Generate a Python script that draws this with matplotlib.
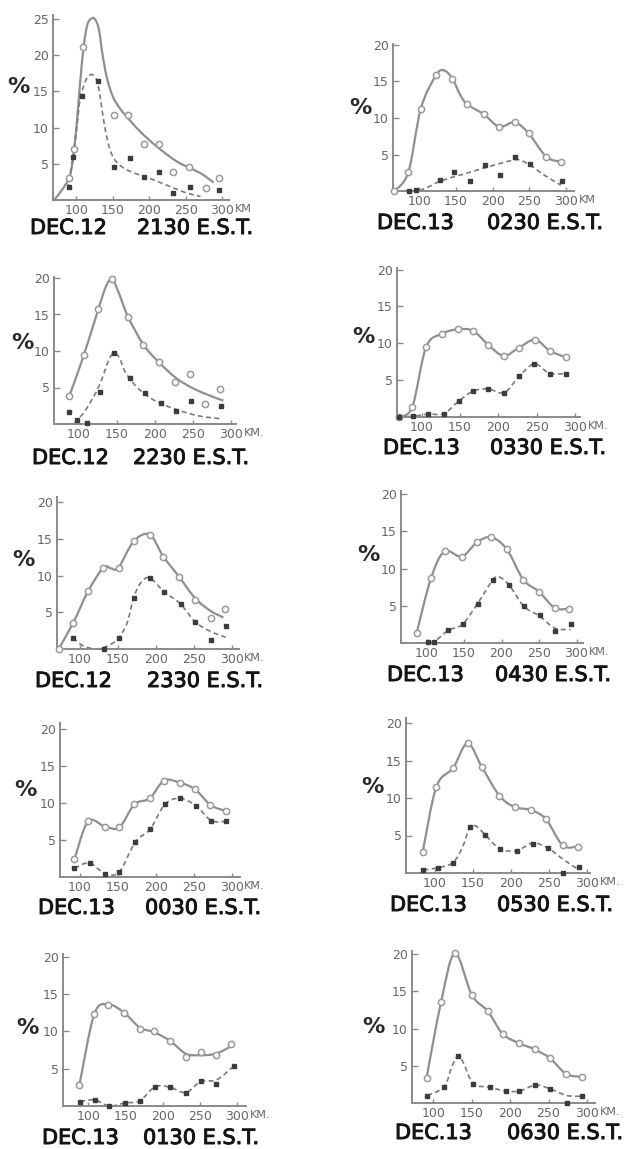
import matplotlib
matplotlib.use("Agg")
import matplotlib.pyplot as plt
import matplotlib.patheffects as pe
import numpy as np
from matplotlib.path import Path
from matplotlib.patches import PathPatch

W, H = 638, 1149

# ---- data (km, %) ----
# DEC.12 2130
p1_circ_km = [90, 97, 109, 151, 171, 192, 213, 233, 254, 277, 296]
p1_circ = [3.0, 7.1, 21.2, 11.8, 11.7, 7.7, 7.7, 3.8, 4.5, 1.6, 3.0]
p1_sq_km = [90, 95, 108, 130, 152, 173, 193, 213, 233, 255, 296]
p1_sq = [1.8, 6.0, 14.3, 16.5, 4.5, 5.8, 3.2, 3.8, 1.0, 1.8, 1.4]
p1_solid_km = [70, 89, 95, 100, 105, 110, 115, 121, 126, 131, 136, 142, 150, 160, 175, 190, 210, 238, 270, 288]
p1_solid = [0, 2.8, 5.5, 10, 16, 21.2, 24.2, 25.1, 24.9, 23.5, 20, 16.8, 14.3, 12.6, 10.8, 9.2, 7.4, 5.3, 3.7, 2.4]
p1_dash_km = [88, 95, 100, 105, 112, 118, 122, 127, 131, 135, 140, 146, 153, 165, 180, 200, 225, 250, 270]
p1_dash = [1.5, 5.5, 9.5, 13.8, 16.3, 17.2, 17.3, 16.8, 15.2, 12.6, 9.5, 7.0, 5.5, 4.4, 3.7, 3.0, 2.0, 1.0, 0.5]

# DEC.13 0230
p2_circ_km = [66, 85, 102, 123, 145, 165, 188, 209, 230, 249, 273, 293]
p2_circ = [0, 2.6, 11.3, 15.9, 15.4, 11.9, 10.5, 8.8, 9.4, 7.9, 4.7, 4.0]
p2_sq_km = [86, 96, 128, 147, 169, 190, 210, 231, 251, 294]
p2_sq = [0, 0.1, 1.5, 2.6, 1.4, 3.5, 2.2, 4.6, 3.7, 1.4]
p2_solid_km = [66, 85, 102, 123, 134, 145, 155, 165, 188, 209, 230, 249, 273, 293]
p2_solid = [0, 2.6, 11.3, 15.9, 16.5, 15.4, 13.3, 11.9, 10.5, 8.8, 9.4, 7.9, 4.7, 4.0]
p2_dash_km = [66, 100, 130, 160, 190, 215, 234, 250, 270, 293]
p2_dash = [0, 0.1, 1.4, 2.3, 3.2, 3.9, 4.3, 3.6, 2.2, 0.8]

# DEC.12 2230
p3_circ_km = [88, 107, 126, 144, 165, 185, 205, 227, 246, 266, 286]
p3_circ = [3.8, 9.4, 15.7, 19.9, 14.7, 10.8, 8.5, 5.7, 6.8, 2.8, 4.8]
p3_sq_km = [88, 98, 111, 128, 146, 167, 187, 208, 228, 247, 287]
p3_sq = [1.6, 0.6, 0.1, 4.4, 9.7, 6.3, 4.3, 2.9, 1.8, 3.2, 2.4]
p3_solid_km = [88, 107, 126, 136, 144, 152, 165, 185, 205, 228, 250, 272, 290]
p3_solid = [3.8, 9.4, 15.7, 18.8, 19.9, 18.2, 14.7, 10.9, 8.5, 6.3, 4.9, 3.9, 3.2]
p3_dash_km = [95, 110, 127, 140, 147, 154, 162, 180, 202, 228, 258, 289]
p3_dash = [0.1, 2.0, 5.2, 8.8, 9.7, 9.0, 7.0, 4.7, 3.1, 2.0, 1.1, 0.7]

# DEC.13 0330
p4_circ_km = [71, 88, 106, 127, 147, 167, 187, 207, 227, 248, 267, 288]
p4_circ = [0, 1.4, 9.5, 11.3, 11.9, 11.7, 9.8, 8.3, 9.4, 10.5, 9.0, 8.1]
p4_sq_km = [71, 89, 109, 129, 149, 167, 187, 208, 227, 247, 267, 288]
p4_sq = [0, 0.1, 0.4, 0.45, 2.2, 3.5, 3.8, 3.3, 5.5, 7.2, 5.9, 5.9]

# DEC.12 2330
p5_circ_km = [72, 91, 111, 131, 151, 171, 192, 210, 231, 252, 272, 291]
p5_circ = [0, 3.5, 7.9, 11.1, 11.1, 14.7, 15.6, 12.6, 9.8, 6.7, 4.2, 5.5]
p5_sq_km = [91, 132, 151, 171, 192, 211, 233, 252, 273, 293]
p5_sq = [1.5, 0, 1.5, 7.0, 9.7, 7.8, 6.2, 3.7, 1.2, 3.2]
p5_solid_km = [72, 91, 111, 131, 141, 151, 171, 192, 210, 231, 252, 272, 289]
p5_solid = [0, 3.5, 7.9, 11.1, 11.0, 11.1, 14.7, 15.6, 12.6, 9.8, 6.9, 5.2, 4.3]
p5_dash_km = [91, 105, 123, 140, 151, 162, 171, 180, 192, 211, 232, 252, 272, 292]
p5_dash = [1.5, 0.4, 0, 0.6, 1.5, 3.5, 7.0, 9.0, 9.7, 7.8, 6.2, 3.7, 2.4, 1.6]

# DEC.13 0430
p6_circ_km = [87, 106, 124, 147, 167, 186, 207, 229, 250, 271, 290]
p6_circ = [1.4, 8.7, 12.3, 11.6, 13.5, 14.2, 12.6, 8.5, 6.9, 4.7, 4.6]
p6_sq_km = [102, 110, 129, 148, 168, 188, 210, 230, 251, 271, 292]
p6_sq = [0.1, 0.2, 1.7, 2.5, 5.3, 8.4, 7.8, 4.9, 3.8, 1.6, 2.6]
p6_dash_km = [93, 110, 129, 148, 168, 188, 196, 210, 230, 251, 271, 292]
p6_dash = [0, 0.2, 1.7, 2.5, 5.3, 8.4, 8.9, 7.8, 4.9, 3.6, 2.0, 1.8]

# DEC.13 0030
p7_circ_km = [93, 111, 133, 152, 172, 192, 211, 232, 252, 272, 292]
p7_circ = [2.4, 7.5, 6.8, 6.7, 9.8, 10.6, 13.0, 12.7, 11.8, 9.7, 8.9]
p7_sq_km = [93, 113, 133, 152, 173, 193, 212, 232, 253, 273, 292]
p7_sq = [1.2, 1.9, 0.45, 0.7, 4.7, 6.5, 9.8, 10.6, 9.6, 7.6, 7.5]

# DEC.13 0530
p8_circ_km = [84, 102, 124, 143, 162, 185, 205, 226, 246, 268, 288]
p8_circ = [2.8, 11.5, 14.0, 17.3, 14.1, 10.3, 8.8, 8.4, 7.2, 3.7, 3.5]
p8_sq_km = [85, 104, 124, 146, 166, 186, 208, 229, 249, 269, 289]
p8_sq = [0.4, 0.7, 1.4, 6.1, 5.1, 3.2, 3.0, 3.9, 3.3, 0, 0.75]
p8_dash_km = [85, 104, 124, 137, 146, 155, 166, 186, 208, 229, 249, 269, 289]
p8_dash = [0.4, 0.7, 1.4, 3.6, 6.1, 6.2, 5.1, 3.2, 3.0, 4.0, 3.3, 1.8, 0.45]

# DEC.13 0130
p9_circ_km = [88, 108, 127, 148, 169, 188, 210, 231, 251, 271, 292]
p9_circ = [2.8, 12.3, 13.5, 12.5, 10.3, 10.1, 8.7, 6.5, 7.2, 6.8, 8.3]
p9_solid = [2.8, 12.3, 13.6, 12.5, 10.5, 9.9, 8.7, 7.0, 6.8, 7.0, 8.0]
p9_sq_km = [89, 109, 128, 149, 169, 190, 210, 231, 251, 272, 296]
p9_sq = [0.6, 0.8, 0, 0.4, 0.7, 2.6, 2.5, 1.8, 3.3, 2.9, 5.4]
p9_dash = [0.6, 0.8, 0, 0.4, 0.7, 2.6, 2.5, 1.8, 3.3, 3.5, 5.4]

# DEC.13 0630
p10_circ_km = [91, 110, 128, 150, 171, 190, 212, 232, 252, 273, 294]
p10_circ = [3.4, 13.6, 20.1, 14.5, 12.3, 9.3, 8.0, 7.2, 6.0, 3.9, 3.5]
p10_sq_km = [92, 114, 132, 152, 174, 194, 212, 233, 252, 274, 294]
p10_sq = [1.0, 2.2, 6.3, 2.6, 2.1, 1.6, 1.6, 2.4, 1.9, 0, 0.9]
p10_dash_km = [92, 114, 124, 132, 139, 152, 174, 194, 212, 233, 252, 274, 294]
p10_dash = [1.0, 2.2, 4.9, 6.3, 5.4, 2.6, 2.1, 1.6, 1.6, 2.4, 1.9, 1.0, 0.9]

x_ticks = [100, 150, 200, 250, 300]

panels = [
    dict(date="DEC.12", time="2130 E.S.T.", km_label="KM", yticks=[5, 10, 15, 20, 25],
         circ=(p1_circ_km, p1_circ), sq=(p1_sq_km, p1_sq),
         solid=(p1_solid_km, p1_solid), dash=(p1_dash_km, p1_dash)),
    dict(date="DEC.13", time="0230 E.S.T.", km_label="KM", yticks=[5, 10, 15, 20],
         circ=(p2_circ_km, p2_circ), sq=(p2_sq_km, p2_sq),
         solid=(p2_solid_km, p2_solid), dash=(p2_dash_km, p2_dash)),
    dict(date="DEC.12", time="2230 E.S.T.", km_label="KM.", yticks=[5, 10, 15, 20],
         circ=(p3_circ_km, p3_circ), sq=(p3_sq_km, p3_sq),
         solid=(p3_solid_km, p3_solid), dash=(p3_dash_km, p3_dash)),
    dict(date="DEC.13", time="0330 E.S.T.", km_label="KM.", yticks=[5, 10, 15, 20],
         circ=(p4_circ_km, p4_circ), sq=(p4_sq_km, p4_sq),
         solid=(p4_circ_km, p4_circ), dash=(p4_sq_km, p4_sq)),
    dict(date="DEC.12", time="2330 E.S.T.", km_label="KM.", yticks=[5, 10, 15, 20],
         circ=(p5_circ_km, p5_circ), sq=(p5_sq_km, p5_sq),
         solid=(p5_solid_km, p5_solid), dash=(p5_dash_km, p5_dash)),
    dict(date="DEC.13", time="0430 E.S.T.", km_label="KM.", yticks=[5, 10, 15, 20],
         circ=(p6_circ_km, p6_circ), sq=(p6_sq_km, p6_sq),
         solid=(p6_circ_km, p6_circ), dash=(p6_dash_km, p6_dash)),
    dict(date="DEC.13", time="0030 E.S.T.", km_label="KM.", yticks=[5, 10, 15, 20],
         circ=(p7_circ_km, p7_circ), sq=(p7_sq_km, p7_sq),
         solid=(p7_circ_km, p7_circ), dash=(p7_sq_km, p7_sq)),
    dict(date="DEC.13", time="0530 E.S.T.", km_label="KM.", yticks=[5, 10, 15, 20],
         circ=(p8_circ_km, p8_circ), sq=(p8_sq_km, p8_sq),
         solid=(p8_circ_km, p8_circ), dash=(p8_dash_km, p8_dash)),
    dict(date="DEC.13", time="0130 E.S.T.", km_label="KM.", yticks=[5, 10, 15, 20],
         circ=(p9_circ_km, p9_circ), sq=(p9_sq_km, p9_sq),
         solid=(p9_circ_km, p9_solid), dash=(p9_sq_km, p9_dash)),
    dict(date="DEC.13", time="0630 E.S.T.", km_label="KM.", yticks=[5, 10, 15, 20],
         circ=(p10_circ_km, p10_circ), sq=(p10_sq_km, p10_sq),
         solid=(p10_circ_km, p10_circ), dash=(p10_dash_km, p10_dash)),
]

# layout in figure pixels: y-axis x, x-axis y, xlim, px per km, ytop, px per %
layout = [
    (53, 200, 68, 309, 0.73, 25.6, 7.24),
    (393, 191, 64, 311, 0.733, 20.2, 7.3),
    (54, 424, 68, 306, 0.763, 20.2, 7.3),
    (397, 417, 68, 306, 0.767, 20.2, 7.37),
    (57, 649, 70, 310, 0.76, 20.8, 7.33),
    (401, 643, 66, 309, 0.75, 20.4, 7.45),
    (60, 877, 74, 311, 0.76, 20.7, 7.42),
    (406, 873, 62, 304, 0.76, 20.7, 7.5),
    (63, 1106, 66, 312, 0.745, 20.4, 7.47),
    (412, 1103, 72, 311, 0.767, 20.4, 7.45),
]
title_pos = [(30, 137, 228), (377, 487, 223), (32, 133, 458), (383, 490, 448),
             (35, 147, 681), (387, 495, 675), (38, 145, 908), (390, 497, 905),
             (42, 143, 1138), (395, 507, 1133)]
pct_pos = [(18, 87), (360, 108), (22, 343), (363, 337), (23, 560), (368, 555),
           (25, 790), (372, 787), (27, 1028), (373, 1027)]

AXIS_C = "#8a8a8a"
LABEL_C = "#666666"
SOLID_C = "#8f8f8f"
DASH_C = "#7a7a7a"
INK = [pe.withStroke(linewidth=0.7, foreground="#141414")]


def smooth_path(xs, ys):
    # cubic bezier through the traced points (catmull-rom tangents)
    pts = np.column_stack([xs, ys]).astype(float)
    ext = np.vstack([pts[0], pts, pts[-1]])
    verts = [pts[0]]
    codes = [Path.MOVETO]
    for i in range(len(pts) - 1):
        p0, p1, p2, p3 = ext[i], ext[i + 1], ext[i + 2], ext[i + 3]
        verts += [p1 + (p2 - p0) / 6, p2 - (p3 - p1) / 6, p2]
        codes += [Path.CURVE4] * 3
    return Path(verts, codes)


fig = plt.figure(figsize=(W / 100, H / 100), dpi=100)
fig.patch.set_facecolor("white")

for p, (ax_x, ax_y, x0, x1, pxk, ytop, pxu), tp, pp in zip(panels, layout, title_pos, pct_pos):
    w = (x1 - x0) * pxk
    h = ytop * pxu
    ax = fig.add_axes([ax_x / W, (H - ax_y) / H, w / W, h / H])
    ax.set_xlim(x0, x1)
    ax.set_ylim(0, ytop)
    ax.patch.set_alpha(0)
    for side in ("top", "right"):
        ax.spines[side].set_visible(False)
    for side in ("left", "bottom"):
        ax.spines[side].set_color(AXIS_C)
        ax.spines[side].set_linewidth(1.4)

    ax.set_xticks(x_ticks)
    ax.set_xticklabels([str(t) for t in x_ticks])
    ax.set_yticks(p["yticks"])
    ax.set_yticklabels([str(t) for t in p["yticks"]])
    ax.tick_params(axis="y", direction="in", length=4, width=1, color=AXIS_C,
                   labelcolor=LABEL_C, labelsize=9, pad=3)
    ax.tick_params(axis="x", direction="in", length=3, width=1, color=AXIS_C,
                   labelcolor=LABEL_C, labelsize=9, pad=3)
    ax.annotate(p["km_label"], xy=(300, 0), xycoords=("data", "axes fraction"),
                xytext=(9, -3), textcoords="offset points", ha="left", va="top",
                fontsize=8, color=LABEL_C)

    ax.add_patch(PathPatch(smooth_path(*p["solid"]), fill=False, ec=SOLID_C,
                           lw=1.6, clip_on=False, zorder=2))
    ax.add_patch(PathPatch(smooth_path(*p["dash"]), fill=False, ec=DASH_C,
                           lw=1.2, ls=(0, (3, 2)), clip_on=False, zorder=2))
    ax.plot(*p["circ"], ls="none", marker="o", ms=4.5, mfc="white", mec="#9a9a9a",
            mew=1.1, clip_on=False, zorder=3)
    ax.plot(*p["sq"], ls="none", marker="s", ms=3.2, mfc="#3c3c3c", mec="#3c3c3c",
            clip_on=False, zorder=3)

    dx, tx, ty = tp
    fig.text(dx / W, 1 - ty / H, p["date"], ha="left", va="center", fontsize=15,
             color="#141414", path_effects=INK)
    fig.text(tx / W, 1 - ty / H, p["time"], ha="left", va="center", fontsize=15,
             color="#141414", path_effects=INK)
    fig.text(pp[0] / W, 1 - pp[1] / H, "%", ha="center", va="center", fontsize=16,
             color="#2a2a2a", fontweight="bold")

fig.savefig("out.png", dpi=100, facecolor="white")
